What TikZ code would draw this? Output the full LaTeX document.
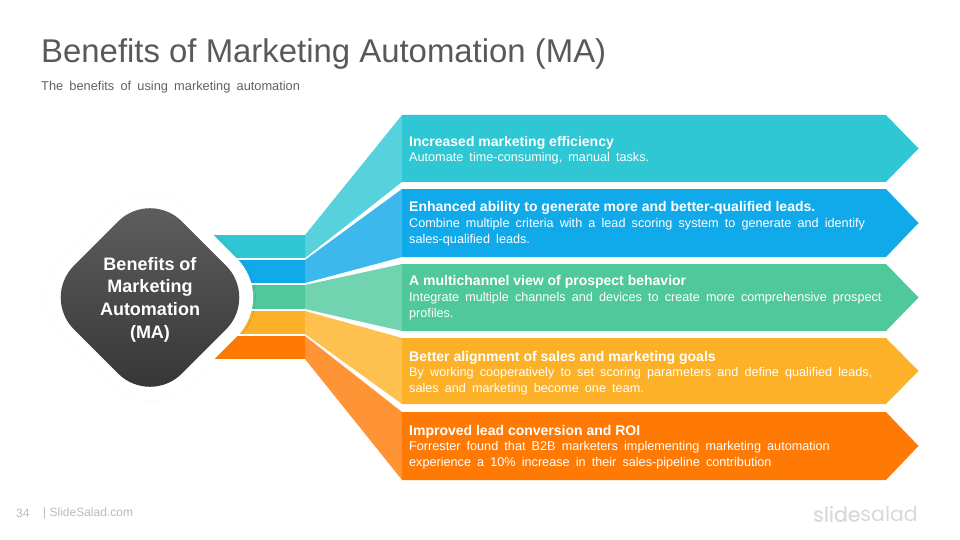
\documentclass[tikz,border=0pt]{standalone}
\usepackage{fontspec}
\usepackage{xcolor}
\setmainfont{Liberation Sans}
\newfontfamily\bodyfont[WordSpace=1.75]{Liberation Sans}
\newfontfamily\logofont{Poppins}
\newfontfamily\logoheavy[FakeBold=0.6]{Poppins}
\usetikzlibrary{shapes.geometric}
\usetikzlibrary{arrows,calc,shadows.blur}
\definecolor{bandA}{HTML}{2EC7D3}
\definecolor{bandB}{HTML}{10A9EA}
\definecolor{bandC}{HTML}{4FC89C}
\definecolor{bandD}{HTML}{FDB128}
\definecolor{bandE}{HTML}{FF7A05}
\definecolor{fanA}{HTML}{57D2DC}
\definecolor{fanB}{HTML}{3DB8ED}
\definecolor{fanC}{HTML}{72D3B0}
\definecolor{fanD}{HTML}{FEC14F}
\definecolor{fanE}{HTML}{FF9437}
\tikzset{
	headtext/.style={anchor=north west, inner sep=0pt, text=white, font=\bfseries\fontsize{14}{16}\selectfont},
	bodytext/.style={anchor=north west, inner sep=0pt, text=white, align=left, font=\bodyfont\fontsize{12.65}{16}\selectfont},
	halo/.style={diamond, inner sep=0pt, minimum width=#1, minimum height=#1}
}

\begin{document}
\begin{tikzpicture}[x=1pt, y=-1pt]
	\useasboundingbox (0,0) rectangle (960,540);
	\node[anchor=west, inner sep=0pt, text=black!65, font=\fontsize{32.9}{36}\selectfont] (title) at (41,54) {Benefits of Marketing Automation (MA)};
	\node[anchor=west, inner sep=0pt, text=black!62, font=\bodyfont\fontsize{12.8}{14}\selectfont] (subtitle) at (41,87) {The benefits of using marketing automation};

	\foreach \i/\boxtop/\boxbot/\stripa/\stripb/\yhead/\ybody/\headline/\bodylines in {
		A/115/182/235/258/136/152/{Increased marketing efficiency}/{Automate time-consuming, manual tasks.},
		B/189/257/260/283/201/218/{Enhanced ability to generate more and better-qualified leads.}/{Combine multiple criteria with a lead scoring system to generate and identify\\sales-qualified leads.},
		C/264/331/285/309/275/292/{A multichannel view of prospect behavior}/{Integrate multiple channels and devices to create more comprehensive prospect\\profiles.},
		D/338/404/311/334/351/367/{Better alignment of sales and marketing goals}/{By working cooperatively to set scoring parameters and define qualified leads,\\sales and marketing become one team.},
		E/412/480/336/359/425/441/{Improved lead conversion and ROI}/{Forrester found that B2B marketers implementing marketing automation\\experience a 10\% increase in their sales-pipeline contribution}}{
		\fill[band\i] (200,\stripa) rectangle (305,\stripb);
		\fill[fan\i] (305,\stripa) -- (402,\boxtop) -- (402,\boxbot) -- (305,\stripb) -- cycle;
		\fill[band\i] (402,\boxtop) -- (886,\boxtop) -- (918.5,{(\boxtop+\boxbot)/2}) -- (886,\boxbot) -- (402,\boxbot) -- cycle;
		\node[headtext] (head\i) at (409,\yhead) {\headline};
		\node[bodytext] (body\i) at (409,\ybody) {\bodylines};
	}

	\node[halo=252pt, fill=white, rounded corners=55pt, blur shadow={shadow blur steps=6, shadow opacity=4, shadow xshift=0pt, shadow yshift=0pt}] (outer) at (150,297.5) {};
	\node[halo=216pt, rounded corners=45pt, top color=black!62, bottom color=black!80] (core) at (150,297.5) {};
	\node[text=white, inner sep=0pt, align=center, font=\bfseries\fontsize{18}{22.7}\selectfont] (corelabel) at (150,299.5) {Benefits of\\Marketing\\Automation\\(MA)};

	\node[anchor=west, inner sep=0pt, text=black!27, font=\fontsize{12}{14}\selectfont] (page) at (16,513.5) {34};
	\node[anchor=west, inner sep=0pt, text=black!27, font=\fontsize{12}{14}\selectfont] (site) at (43,513.5) {| SlideSalad.com};
	\node[anchor=east, inner sep=0pt, text=black!15, font=\logofont\fontsize{20.5}{24}\selectfont] (logo) at (918,514) {{\logoheavy slide}salad};
\end{tikzpicture}
\end{document}
